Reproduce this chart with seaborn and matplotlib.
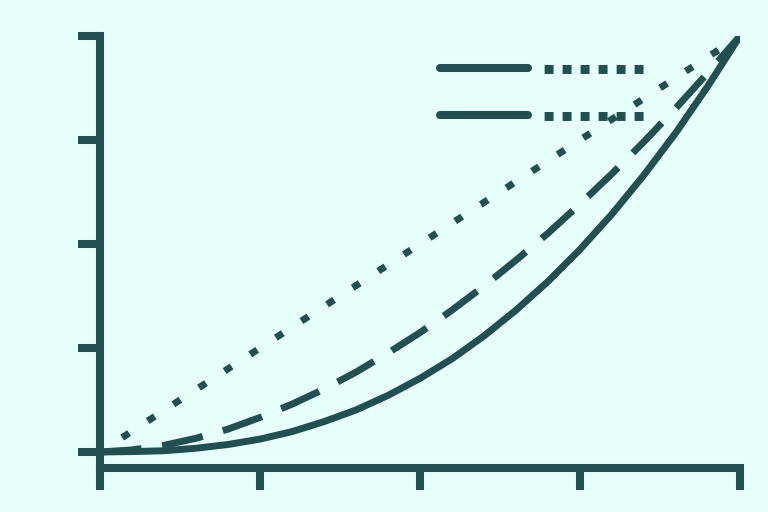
import numpy as np
import matplotlib
matplotlib.use("Agg")
import matplotlib.pyplot as plt
from matplotlib.lines import Line2D
import seaborn as sns

# data (x from 0 to 1)
x_vals = [0.0, 0.05, 0.1, 0.15, 0.2, 0.25, 0.3, 0.35, 0.4, 0.45, 0.5,
          0.55, 0.6, 0.65, 0.7, 0.75, 0.8, 0.85, 0.9, 0.95, 1.0]
dotted_vals = [0.0, 0.05, 0.1, 0.15, 0.2, 0.25, 0.3, 0.35, 0.4, 0.45, 0.5,
               0.55, 0.6, 0.65, 0.7, 0.75, 0.8, 0.85, 0.9, 0.95, 1.0]
dashed_vals = [0.0, 0.005, 0.016, 0.033, 0.055, 0.083, 0.115, 0.151, 0.192, 0.238, 0.287,
               0.341, 0.399, 0.461, 0.526, 0.596, 0.669, 0.746, 0.827, 0.912, 1.0]
solid_vals = [0.0, 0.001, 0.003, 0.009, 0.018, 0.031, 0.049, 0.073, 0.101, 0.136, 0.177,
              0.224, 0.279, 0.341, 0.41, 0.487, 0.572, 0.666, 0.768, 0.88, 1.0]

x_ticks = [0, 0.25, 0.5, 0.75, 1.0]
y_ticks = [0, 0.25, 0.5, 0.75, 1.0]
legend_labels = ["▪ ▪ ▪ ▪ ▪ ▪", "▪ ▪ ▪ ▪ ▪ ▪"]

BG = "#E6FFFA"
FG = "#234E52"

sns.set_theme(style="ticks")
plt.rcParams["font.family"] = ["DejaVu Sans"]

fig = plt.figure(figsize=(7.68, 5.12), dpi=100, facecolor=BG)
ax = fig.add_axes([100 / 768, 44 / 512, 640 / 768, 432 / 512])
ax.set_facecolor(BG)

sns.lineplot(x=x_vals, y=dotted_vals, ax=ax, color=FG, linewidth=5,
             linestyle=(0.6, (1.2, 3.2)), solid_capstyle="butt", dash_capstyle="butt")
sns.lineplot(x=x_vals, y=dashed_vals, ax=ax, color=FG, linewidth=5,
             linestyle=(0, (6, 3)), dash_capstyle="butt")
sns.lineplot(x=x_vals, y=solid_vals, ax=ax, color=FG, linewidth=5)

ax.set_xlim(0, 1)
ax.set_ylim(-16 / 416, 1.0)
ax.set_xticks(x_ticks)
ax.set_yticks(y_ticks)
ax.set_xticklabels([])
ax.set_yticklabels([])
ax.tick_params(axis="both", length=16, width=5.8, color=FG)
ax.set_xlabel("")
ax.set_ylabel("")

sns.despine(ax=ax)
for side in ["left", "bottom"]:
    ax.spines[side].set_color(FG)
    ax.spines[side].set_linewidth(5.8)

handles = [Line2D([], [], color=FG, linewidth=5.8) for _ in legend_labels]
leg = ax.legend(handles, legend_labels, loc="upper left", bbox_to_anchor=(0.531, 0.944),
                frameon=False, fontsize=13, handlelength=4.87, handletextpad=0.85,
                labelspacing=1.6, borderaxespad=0, borderpad=0)
for t in leg.get_texts():
    t.set_color(FG)

fig.savefig("out.png", dpi=100, facecolor=BG)
